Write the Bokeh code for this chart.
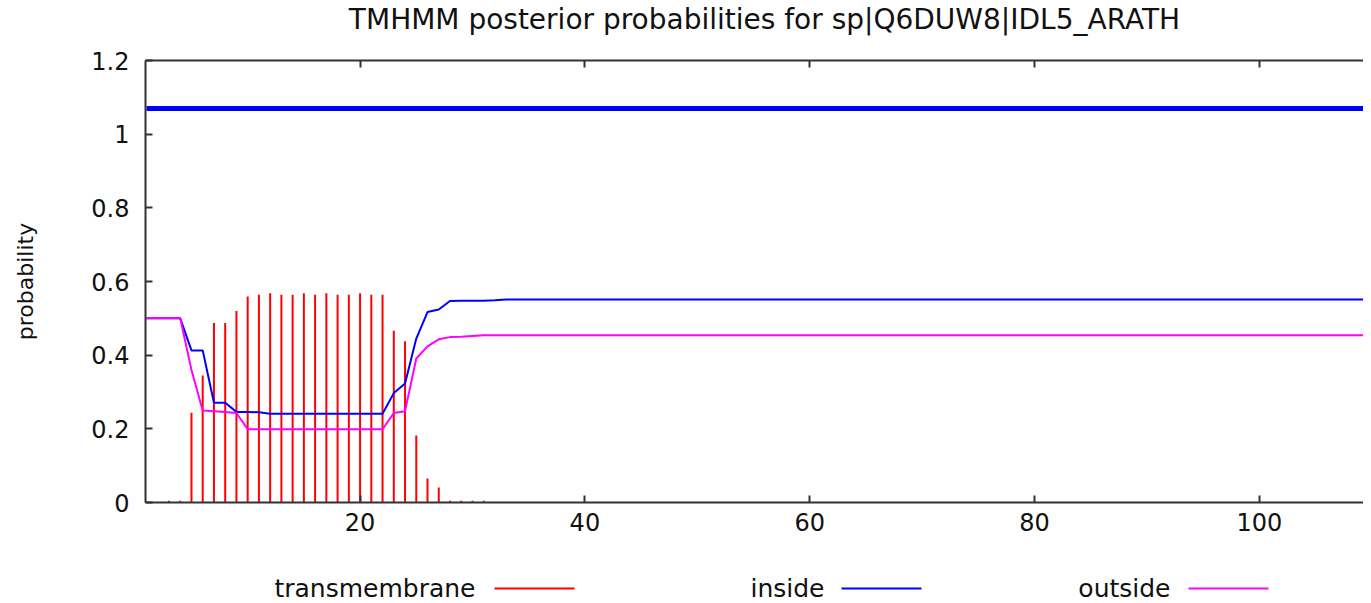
from bokeh.plotting import figure
from bokeh.models import Range1d, LinearAxis, FixedTicker, ColumnDataSource
from bokeh.layouts import column
from bokeh.core.properties import value
from bokeh.embed import file_html
from bokeh.resources import INLINE

title_text = "TMHMM posterior probabilities for sp|Q6DUW8|IDL5_ARATH"
seq_len = 110

# residue positions with transmembrane posterior probability
positions = list(range(1, 32))
transmembrane = [0.0, 0.0, 0.005, 0.005, 0.244, 0.345, 0.487, 0.487, 0.52, 0.559,
                 0.564, 0.568, 0.564, 0.564, 0.568, 0.564, 0.568, 0.564, 0.564, 0.568,
                 0.564, 0.564, 0.466, 0.438, 0.182, 0.065, 0.041, 0.005, 0.005, 0.005,
                 0.005]

inside_x = list(range(1, 34)) + [seq_len]
inside_y = [0.5, 0.5, 0.5, 0.5, 0.413, 0.413, 0.271, 0.271, 0.246, 0.246,
            0.245, 0.241, 0.241, 0.241, 0.241, 0.241, 0.241, 0.241, 0.241, 0.241,
            0.241, 0.241, 0.297, 0.323, 0.445, 0.517, 0.524, 0.547, 0.548, 0.548,
            0.548, 0.549, 0.551, 0.551]

outside_x = list(range(1, 32)) + [seq_len]
outside_y = [0.5, 0.5, 0.5, 0.5, 0.36, 0.25, 0.248, 0.246, 0.243, 0.199,
             0.199, 0.199, 0.199, 0.199, 0.199, 0.199, 0.199, 0.199, 0.199, 0.199,
             0.199, 0.199, 0.243, 0.248, 0.391, 0.424, 0.443, 0.449, 0.45, 0.452,
             0.454, 0.454]

# predicted topology: whole sequence inside
topology_x = [1, seq_len]
topology_y = [1.07, 1.07]

x_ticks = [20, 40, 60, 80, 100]
y_ticks = [0, 0.2, 0.4, 0.6, 0.8, 1.0, 1.2]
y_tick_labels = {0: "0", 1: "1"}

legend_names = ["transmembrane", "inside", "outside"]
legend_colors = ["#ff0000", "#0000ff", "#ff00ff"]

FONT = "DejaVu Sans"
W = 1363


def strip(height):
    f = figure(width=W, height=height, x_range=Range1d(0, W), y_range=Range1d(0, height),
               output_backend="svg", toolbar_location=None,
               min_border=0, min_border_left=0, min_border_right=0,
               min_border_top=0, min_border_bottom=0)
    f.frame_align = False
    f.axis.visible = False
    f.grid.visible = False
    f.outline_line_color = None
    return f


# title strip
TH = 44
head = strip(TH)
head.text(x=[764], y=[TH - 19], text=[title_text],
          text_align="center", text_baseline="middle",
          text_font=value(FONT), text_font_size="28px", text_color="#111111")

# main plot
p = figure(width=W, height=506,
           x_range=Range1d(0.91, 109.27), y_range=Range1d(0, 1.2),
           output_backend="svg", toolbar_location=None,
           min_border_left=145, min_border_right=0,
           min_border_top=16, min_border_bottom=48)
p.frame_align = False
p.outline_line_color = None
p.xgrid.visible = False
p.ygrid.visible = False

for ax in (p.xaxis[0], p.yaxis[0]):
    ax.major_tick_in = 7
    ax.major_tick_out = 0
    ax.minor_tick_line_color = None
    ax.axis_line_color = "#333333"
    ax.axis_line_width = 2
    ax.major_tick_line_color = "#333333"
    ax.major_tick_line_width = 2
    ax.major_label_text_font = FONT
    ax.major_label_text_font_size = "24px"
    ax.major_label_text_color = "#111111"

p.xaxis.ticker = FixedTicker(ticks=x_ticks)
p.xaxis.major_label_standoff = 10
p.yaxis.ticker = FixedTicker(ticks=y_ticks)
p.yaxis.major_label_overrides = y_tick_labels
p.yaxis.major_label_standoff = 16
p.yaxis.axis_label = "probability"
p.yaxis.axis_label_text_font = FONT
p.yaxis.axis_label_text_font_size = "22px"
p.yaxis.axis_label_text_font_style = "normal"
p.yaxis.axis_label_text_color = "#111111"
p.yaxis.axis_label_standoff = 50

# mirrored tick marks along the top edge, no labels
top_axis = LinearAxis(ticker=FixedTicker(ticks=x_ticks),
                      major_label_overrides={t: "" for t in x_ticks},
                      major_label_standoff=0,
                      major_tick_in=7, major_tick_out=0,
                      minor_tick_line_color=None,
                      axis_line_color="#333333", axis_line_width=2,
                      major_tick_line_color="#333333", major_tick_line_width=2)
p.add_layout(top_axis, "above")

tm_src = ColumnDataSource(dict(x=positions, y0=[0] * len(positions), y1=transmembrane))
p.segment(x0="x", y0="y0", x1="x", y1="y1", source=tm_src,
          line_color=legend_colors[0], line_width=2)

p.line(inside_x, inside_y, line_color=legend_colors[1], line_width=2)
p.line(outside_x, outside_y, line_color=legend_colors[2], line_width=2)
p.line(topology_x, topology_y, line_color="#0000ff", line_width=5)

# legend strip in gnuplot style (label, then line sample), pixel coordinates
LH = 53
leg = strip(LH)
legend_text_right = [475, 824, 1170]
legend_line_start = [494, 841, 1188]
legend_line_len = 80
legend_y = [15, 15, 15]
leg.text(x=legend_text_right, y=legend_y, text=legend_names,
         text_align="right", text_baseline="middle",
         text_font=value(FONT), text_font_size="25px", text_color="#111111")
leg.segment(x0=legend_line_start,
            y0=legend_y,
            x1=[s + legend_line_len for s in legend_line_start],
            y1=legend_y, line_color=legend_colors, line_width=2)

layout = column(head, p, leg, spacing=0)
open("out.html", "w").write(file_html(layout, INLINE))
